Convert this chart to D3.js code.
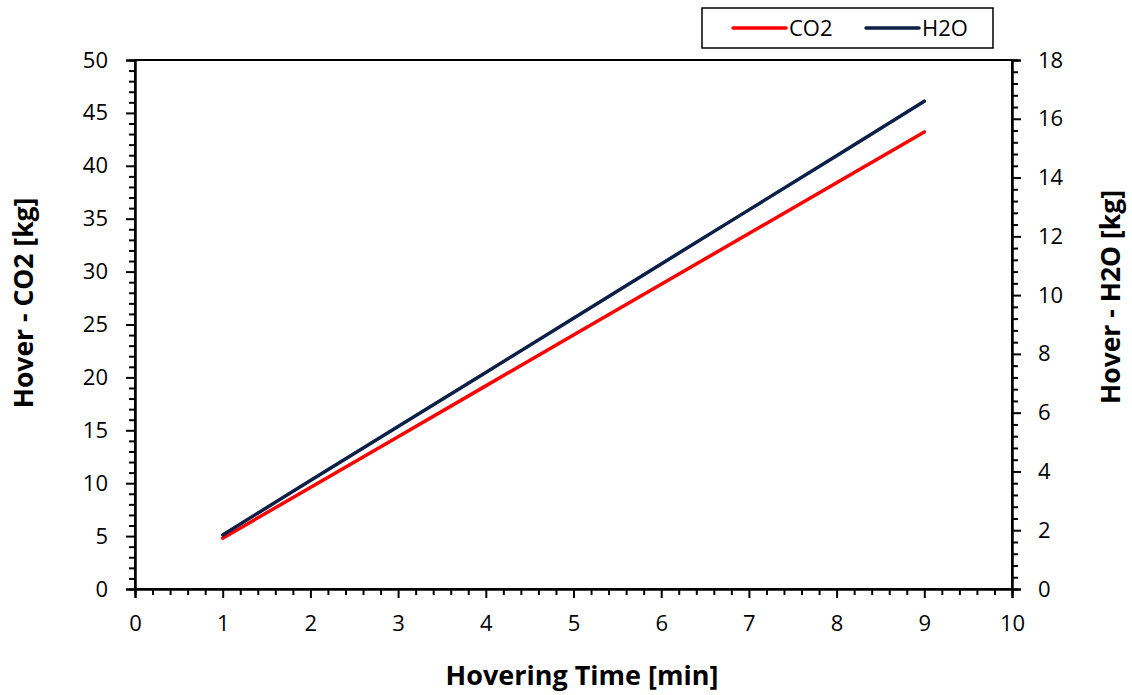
<!DOCTYPE html>
<html>
<head>
<meta charset="utf-8">
<script src="https://cdn.jsdelivr.net/npm/d3@7"></script>
<style>
  html, body { margin: 0; padding: 0; background: #fff; }
  svg { display: block; font-family: "Open Sans", Lato, sans-serif; }
</style>
</head>
<body>
<svg id="chart" width="1132" height="695"></svg>
<script>
// Hovering time in minutes
const hoverMinutes = [1, 2, 3, 4, 5, 6, 7, 8, 9];
// CO2 produced during hover, kg (left axis)
const co2Kg = [4.8, 9.6, 14.4, 19.2, 24.0, 28.8, 33.6, 38.4, 43.2];
// H2O produced during hover, kg (right axis)
const h2oKg = [1.84, 3.69, 5.53, 7.37, 9.21, 11.06, 12.9, 14.74, 16.6];

const xTicks = [0, 1, 2, 3, 4, 5, 6, 7, 8, 9, 10];
const leftTicks = [0, 5, 10, 15, 20, 25, 30, 35, 40, 45, 50];
const rightTicks = [0, 2, 4, 6, 8, 10, 12, 14, 16, 18];

const seriesNames = ["CO2", "H2O"];
const seriesColors = ["#ff0000", "#0c1f46"];

const svg = d3.select("#chart");
const plot = { left: 135, right: 1012, top: 60, bottom: 589 };

const x = d3.scaleLinear().domain([0, 10]).range([plot.left, plot.right]);
const yL = d3.scaleLinear().domain([0, 50]).range([plot.bottom, plot.top]);
const yR = d3.scaleLinear().domain([0, 18]).range([plot.bottom, plot.top]);

// plot frame
svg.append("rect")
  .attr("x", plot.left).attr("y", plot.top)
  .attr("width", plot.right - plot.left).attr("height", plot.bottom - plot.top)
  .attr("fill", "none").attr("stroke", "#000").attr("stroke-width", 2);

function styleAxis(g) {
  g.select(".domain").attr("stroke", "#000").attr("stroke-width", 2);
  g.selectAll(".tick line").attr("stroke", "#000").attr("stroke-width", 2);
  g.selectAll(".tick text").attr("fill", "#000").attr("font-size", 22)
    .attr("font-family", "'Open Sans', Lato, sans-serif");
}

// minor ticks
const xMinor = d3.range(0, 10.001, 0.2).filter(v => Math.abs(v - Math.round(v)) > 1e-6);
const yLMinor = d3.range(0, 50.001, 1).filter(v => v % 5 !== 0);
const yRMinor = d3.range(0, 18.001, 0.4).filter(v => Math.abs(v / 2 - Math.round(v / 2)) > 1e-6);

svg.append("g").attr("transform", `translate(0,${plot.bottom})`)
  .call(d3.axisBottom(x).tickValues(xMinor).tickSize(6).tickFormat(""))
  .call(styleAxis);
svg.append("g").attr("transform", `translate(${plot.left},0)`)
  .call(d3.axisLeft(yL).tickValues(yLMinor).tickSize(6).tickFormat(""))
  .call(styleAxis);
svg.append("g").attr("transform", `translate(${plot.right},0)`)
  .call(d3.axisRight(yR).tickValues(yRMinor).tickSize(6).tickFormat(""))
  .call(styleAxis);

// major ticks and labels
svg.append("g").attr("transform", `translate(0,${plot.bottom})`)
  .call(d3.axisBottom(x).tickValues(xTicks).tickSize(9).tickPadding(17).tickFormat(d3.format("d")))
  .call(styleAxis);
svg.append("g").attr("transform", `translate(${plot.left},0)`)
  .call(d3.axisLeft(yL).tickValues(leftTicks).tickSize(9).tickPadding(18).tickFormat(d3.format("d")))
  .call(styleAxis);
svg.append("g").attr("transform", `translate(${plot.right},0)`)
  .call(d3.axisRight(yR).tickValues(rightTicks).tickSize(9).tickPadding(17).tickFormat(d3.format("d")))
  .call(styleAxis);

// series lines
const lineL = d3.line().x((d, i) => x(hoverMinutes[i])).y(d => yL(d));
const lineR = d3.line().x((d, i) => x(hoverMinutes[i])).y(d => yR(d));

svg.append("path").datum(co2Kg)
  .attr("d", lineL).attr("fill", "none")
  .attr("stroke", seriesColors[0]).attr("stroke-width", 3.5).attr("stroke-linecap", "round");
svg.append("path").datum(h2oKg)
  .attr("d", lineR).attr("fill", "none")
  .attr("stroke", seriesColors[1]).attr("stroke-width", 3.5).attr("stroke-linecap", "round");

// axis titles
svg.append("text")
  .attr("x", 582).attr("y", 685)
  .attr("text-anchor", "middle").attr("font-size", 27).attr("font-weight", "bold")
  .text("Hovering Time [min]");
svg.append("text")
  .attr("transform", "translate(33,303) rotate(-90)")
  .attr("text-anchor", "middle").attr("font-size", 26.5).attr("font-weight", "bold")
  .text("Hover - CO2 [kg]");
svg.append("text")
  .attr("transform", "translate(1120,297) rotate(-90)")
  .attr("text-anchor", "middle").attr("font-size", 26.5).attr("font-weight", "bold")
  .text("Hover - H2O [kg]");

// legend
const legend = svg.append("g");
legend.append("rect")
  .attr("x", 702).attr("y", 8).attr("width", 291).attr("height", 40)
  .attr("fill", "#fff").attr("stroke", "#000").attr("stroke-width", 1.5);
const legendX = [733, 866];
seriesNames.forEach((name, i) => {
  legend.append("line")
    .attr("x1", legendX[i]).attr("x2", legendX[i] + 53)
    .attr("y1", 28).attr("y2", 28)
    .attr("stroke", seriesColors[i]).attr("stroke-width", 3.5).attr("stroke-linecap", "round");
  legend.append("text")
    .attr("x", legendX[i] + 56).attr("y", 36)
    .attr("font-size", 22).attr("fill", "#000")
    .text(name);
});
</script>
</body>
</html>
